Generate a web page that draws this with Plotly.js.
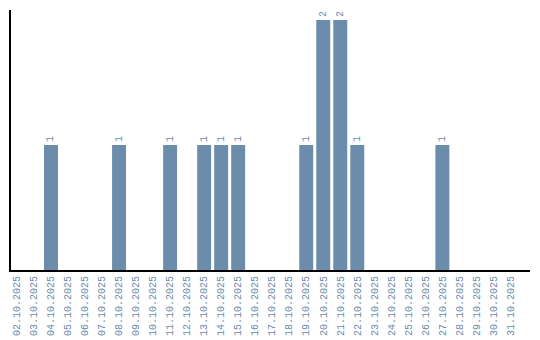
<!DOCTYPE html>
<html><head><meta charset="utf-8">
<script src="https://cdn.plot.ly/plotly-3.0.1.min.js"></script>
<style>html,body{margin:0;padding:0;background:#fff}#c{width:540px;height:340px}</style>
</head><body><div id="c"></div>
<script>
const dates = ["02.10.2025","03.10.2025","04.10.2025","05.10.2025","06.10.2025","07.10.2025","08.10.2025","09.10.2025","10.10.2025","11.10.2025","12.10.2025","13.10.2025","14.10.2025","15.10.2025","16.10.2025","17.10.2025","18.10.2025","19.10.2025","20.10.2025","21.10.2025","22.10.2025","23.10.2025","24.10.2025","25.10.2025","26.10.2025","27.10.2025","28.10.2025","29.10.2025","30.10.2025","31.10.2025"];
const counts = [0,0,1,0,0,0,1,0,0,1,0,1,1,1,0,0,0,1,2,2,1,0,0,0,0,1,0,0,0,0];
const labels = counts.map(v => v > 0 ? String(v) : "");
Plotly.newPlot("c", [{
  type: "bar", x: dates, y: counts, text: labels, textposition: "outside",
  textangle: -90, cliponaxis: false,
  textfont: {family: "Liberation Mono", size: 10, color: "#6b8aab"},
  marker: {color: "#6b8cab"}, hoverinfo: "none"
}], {
  width: 540, height: 340,
  margin: {l: 11, r: 10, t: 10, b: 70},
  paper_bgcolor: "#fff", plot_bgcolor: "#fff",
  bargap: 0.18, showlegend: false,
  xaxis: {type: "category", range: [-0.35, 30.15], showline: true, linecolor: "#000", linewidth: 2,
    ticks: "", tickangle: -90, tickfont: {family: "Liberation Mono", size: 10, color: "#6b8aab"},
    showgrid: false, zeroline: false, fixedrange: true},
  yaxis: {range: [0, 2.08], showline: true, linecolor: "#000", linewidth: 2, showticklabels: false,
    ticks: "", showgrid: false, zeroline: false, fixedrange: true}
}, {displayModeBar: false, staticPlot: true});
</script></body></html>
